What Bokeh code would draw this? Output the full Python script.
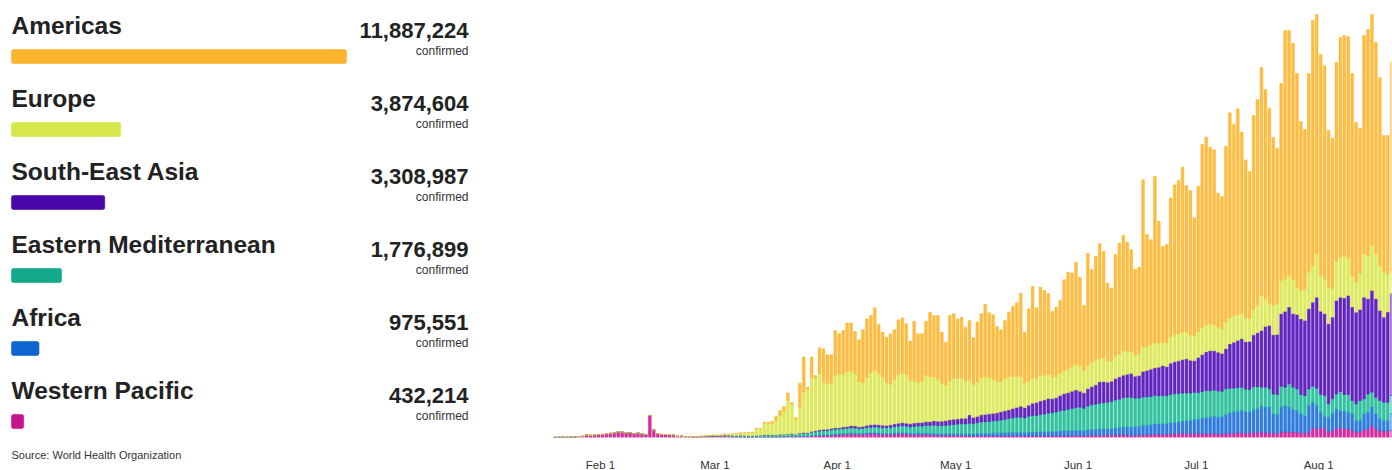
from datetime import date
from bokeh.plotting import figure
from bokeh.layouts import row
from bokeh.models import ColumnDataSource, FixedTicker, Range1d
from bokeh.embed import file_html
from bokeh.resources import INLINE
from bokeh.core.properties import value

# ---------------- summary panel data ----------------
regions = ["Americas", "Europe", "South-East Asia", "Eastern Mediterranean", "Africa", "Western Pacific"]
confirmed = [11887224, 3874604, 3308987, 1776899, 975551, 432214]
legend_colors = ["#FBB52F", "#D5E74B", "#4A06A8", "#13A98A", "#0F66D0", "#C7158E"]
source_note = "Source: World Health Organization"

# ---------------- daily new cases (thousands), 2020-01-20 .. 2020-08-19 ----------------
first_day = date(2020, 1, 20)
tick_dates = [date(2020, 2, 1), date(2020, 3, 1), date(2020, 4, 1), date(2020, 5, 1),
              date(2020, 6, 1), date(2020, 7, 1), date(2020, 8, 1)]
tick_labels = ["Feb 1", "Mar 1", "Apr 1", "May 1", "Jun 1", "Jul 1", "Aug 1"]

western_pacific = [
    # Jan 20-31
    0.08, 0.15, 0.15, 0.13, 0.26, 0.45, 0.69, 0.77, 1.77, 1.46, 1.74, 1.98,
    # Feb
    2.10, 2.59, 2.83, 3.24, 3.89, 3.70, 3.15, 3.40, 2.66, 3.00, 2.48, 2.03, 15.15, 5.09, 2.64,
    2.10, 2.05, 1.90, 1.75, 0.82, 0.90, 0.65, 0.65, 0.42, 0.52, 0.62, 0.75, 0.85, 0.95,
    # Mar
    0.9, 0.8, 1.0, 0.7, 0.6, 0.6, 0.5, 0.4, 0.3, 0.3, 0.3, 0.3, 0.3, 0.3, 0.3, 0.3,
    0.4, 0.4, 0.5, 0.6, 0.6, 0.7, 0.8, 0.8, 1.0, 1.1, 1.3, 1.4, 1.3, 1.5, 1.7,
    # Apr
    1.8, 2.0, 2.1, 2.3, 2.2, 2.0, 2.1, 2.3, 2.5, 2.4, 2.3, 2.1, 2.2, 2.0, 2.3,
    2.4, 2.6, 2.2, 2.0, 1.9, 2.0, 1.8, 1.9, 1.7, 1.6, 1.5, 1.4, 1.3, 1.4, 1.3,
    # May
    1.4, 1.3, 1.2, 1.1, 1.1, 1.2, 1.3, 1.2, 1.0, 1.1, 1.2, 1.1, 1.0, 1.1, 1.2, 1.1,
    1.0, 1.0, 1.1, 1.0, 1.1, 1.2, 1.0, 1.0, 1.1, 1.0, 1.1, 1.2, 1.1, 1.3, 1.2,
    # Jun
    1.3, 1.2, 1.4, 1.5, 1.6, 1.6, 1.5, 1.7, 1.6, 1.8, 1.7, 1.9, 1.8, 1.4, 1.5,
    1.6, 1.9, 1.7, 2.0, 2.2, 2.4, 2.1, 2.2, 2.5, 2.6, 2.7, 2.9, 2.8, 2.6, 3.0,
    # Jul
    2.5, 2.4, 2.6, 2.5, 2.6, 2.4, 2.5, 2.7, 2.8, 3.0, 3.1, 3.2, 3.0, 3.2, 3.4, 3.5,
    3.7, 3.2, 3.2, 3.0, 2.5, 3.7, 3.7, 3.9, 3.7, 3.4, 3.2, 3.2, 3.4, 6.4, 6.4,
    # Aug 1-19
    6.0, 6.7, 3.7, 4.4, 6.4, 6.4, 6.0, 6.0, 4.8, 3.7, 3.7, 5.7, 5.7, 8.3, 6.0, 4.4, 4.4, 4.4, 4.8,
]

africa = [
    # Jan 20-31
    0, 0, 0, 0, 0, 0, 0, 0, 0, 0, 0, 0,
    # Feb
    0, 0, 0, 0, 0, 0, 0, 0, 0, 0, 0, 0, 0, 0, 0,
    0, 0, 0, 0, 0, 0, 0, 0, 0, 0, 0, 0, 0, 0,
    # Mar
    0, 0, 0, 0, 0, 0.01, 0.01, 0.01, 0.01, 0.01, 0.02, 0.03, 0.03, 0.05, 0.05, 0.1,
    0.1, 0.1, 0.15, 0.2, 0.1, 0.3, 0.3, 0.2, 0.4, 0.4, 0.5, 0.5, 0.5, 0.6, 0.6,
    # Apr
    0.6, 0.7, 0.7, 0.8, 0.7, 0.6, 0.8, 0.9, 0.8, 0.9, 0.8, 0.8, 0.7, 0.8, 0.9,
    1.0, 0.9, 1.0, 0.9, 1.0, 1.1, 1.1, 1.2, 1.2, 1.3, 1.2, 1.1, 1.2, 1.3, 1.4,
    # May
    1.4, 1.5, 1.3, 1.4, 1.3, 1.5, 1.6, 1.7, 1.8, 1.9, 1.8, 2.0, 2.2, 2.3, 2.4, 2.5,
    2.4, 2.3, 2.6, 2.8, 2.7, 2.9, 3.0, 3.1, 3.0, 3.1, 3.3, 3.2, 3.4, 3.5, 3.6,
    # Jun
    3.6, 3.4, 3.8, 4.0, 4.1, 4.2, 4.4, 4.3, 4.6, 5.0, 5.2, 5.4, 5.5, 5.7, 5.8,
    6.0, 6.6, 6.8, 7.0, 7.2, 7.0, 7.3, 7.5, 7.6, 7.8, 8.0, 8.5, 8.8, 9.2, 9.5,
    # Jul
    10.0, 10.8, 11.2, 11.5, 12.0, 11.6, 11.8, 13.0, 14.0, 14.5, 15.0, 15.5, 14.8, 14.5, 16.0, 16.5,
    17.9, 17.7, 17.7, 13.3, 13.3, 17.2, 17.9, 17.0, 15.6, 15.2, 13.1, 11.9, 18.6, 17.9, 15.6,
    # Aug 1-19
    11.4, 8.0, 10.3, 12.3, 13.3, 12.2, 12.1, 11.4, 11.5, 8.0, 8.0, 10.6, 11.7, 12.6, 10.3, 8.4, 7.3, 7.3, 11.5,
]

eastern_mediterranean = [
    # Jan 20-31
    0, 0, 0, 0, 0, 0, 0, 0, 0, 0, 0, 0,
    # Feb
    0, 0, 0, 0, 0, 0, 0, 0, 0, 0, 0, 0, 0, 0, 0, 0, 0, 0, 0,
    0.01, 0.02, 0.03, 0.03, 0.05, 0.05, 0.1, 0.1, 0.15, 0.2,
    # Mar
    0.2, 0.4, 0.5, 0.6, 0.6, 0.6, 1.1, 0.8, 0.7, 0.9, 1.0, 1.1, 1.3, 1.4, 1.3, 1.1,
    1.4, 1.5, 1.4, 1.5, 1.2, 1.7, 1.8, 1.7, 2.2, 2.4, 2.6, 2.8, 3.0, 3.2, 3.3,
    # Apr
    3.4, 3.3, 3.5, 3.6, 3.7, 3.5, 3.4, 3.6, 3.8, 3.9, 4.0, 3.8, 3.9, 4.0, 4.2,
    4.4, 4.5, 4.6, 4.4, 4.7, 4.9, 5.0, 5.2, 5.4, 5.6, 5.5, 5.7, 5.8, 6.0, 6.2,
    # May
    6.4, 6.6, 6.8, 7.3, 7.0, 7.5, 7.8, 8.0, 8.2, 8.5, 8.6, 9.0, 9.3, 9.6, 10.0, 10.3,
    10.6, 10.2, 10.9, 11.2, 11.4, 11.8, 12.2, 12.8, 13.0, 13.5, 14.0, 14.3, 14.8, 15.2, 15.8,
    # Jun
    16.0, 15.5, 16.5, 17.0, 17.3, 17.7, 18.0, 18.2, 18.5, 19.0, 19.5, 20.0, 20.3, 20.6, 19.8,
    19.5, 19.4, 19.6, 19.2, 19.5, 19.4, 19.5, 19.0, 19.5, 19.8, 19.5, 19.2, 19.0, 18.8, 18.5,
    # Jul
    18.5, 18.3, 18.6, 18.2, 18.0, 18.1, 17.5, 17.8, 17.0, 16.5, 16.2, 15.8, 15.5, 15.3, 15.6, 15.0,
    13.0, 13.7, 12.6, 13.7, 13.8, 14.4, 13.0, 16.0, 15.3, 14.9, 13.3, 13.8, 11.5, 11.0, 11.9,
    # Aug 1-19
    12.2, 14.2, 9.2, 9.9, 10.3, 13.0, 11.5, 12.2, 9.2, 11.5, 13.8, 10.3, 12.6, 10.3, 11.4, 12.7, 12.6, 12.6, 12.6,
]

south_east_asia = [
    # Jan 20-31
    0, 0, 0, 0, 0, 0, 0, 0, 0, 0, 0, 0,
    # Feb
    0, 0, 0, 0, 0, 0, 0, 0, 0, 0, 0, 0, 0, 0, 0,
    0, 0, 0, 0, 0, 0, 0, 0, 0, 0, 0, 0, 0, 0,
    # Mar
    0, 0, 0, 0.01, 0.02, 0.01, 0.01, 0.03, 0.01, 0.02, 0.02, 0.03, 0.04, 0.05, 0.05, 0.1,
    0.1, 0.1, 0.15, 0.2, 0.2, 0.3, 0.4, 0.4, 0.5, 0.6, 0.7, 0.8, 0.8, 0.9, 1.0,
    # Apr
    0.8, 1.2, 1.1, 1.4, 1.3, 1.1, 1.3, 1.5, 1.6, 1.7, 1.6, 1.7, 1.5, 1.8, 1.9,
    2.0, 2.2, 2.0, 2.1, 2.3, 2.2, 2.4, 2.6, 2.5, 2.8, 2.9, 3.0, 3.2, 3.4, 3.6,
    # May
    3.5, 3.8, 4.0, 5.7, 4.4, 4.2, 4.8, 5.0, 5.2, 5.0, 5.3, 5.5, 5.8, 6.0, 6.4, 6.8,
    7.5, 7.0, 7.6, 8.5, 8.9, 9.2, 9.6, 10.0, 9.5, 9.8, 10.5, 11.4, 11.5, 11.8, 12.0,
    # Jun
    11.0, 10.5, 11.8, 12.5, 13.2, 14.8, 14.5, 13.8, 14.0, 14.8, 15.2, 15.6, 16.0, 16.3, 15.0,
    15.5, 17.5, 18.0, 18.8, 19.0, 19.6, 20.5, 20.0, 21.5, 22.0, 22.5, 23.0, 23.5, 22.5, 21.8,
    # Jul
    24.0, 25.5, 26.5, 27.5, 27.0, 26.5, 26.0, 27.5, 30.5, 31.5, 32.5, 33.5, 32.5, 33.0, 35.5, 37.0,
    39.0, 41.8, 43.6, 40.6, 41.3, 49.8, 52.1, 52.8, 50.5, 51.1, 52.0, 51.6, 55.0, 57.8, 62.6,
    # Aug 1-19
    57.3, 56.2, 55.0, 56.2, 64.3, 64.9, 66.3, 68.1, 64.2, 63.0, 62.6, 69.9, 65.4, 69.9, 67.7, 61.9, 58.5, 62.0, 70.0,
]

europe = [
    # Jan 20-31
    0, 0, 0, 0, 0, 0, 0, 0, 0, 0, 0, 0,
    # Feb
    0, 0, 0, 0, 0, 0, 0, 0, 0, 0, 0, 0, 0, 0, 0, 0, 0, 0, 0, 0,
    0.01, 0.05, 0.1, 0.1, 0.1, 0.15, 0.25, 0.3, 0.45,
    # Mar
    0.5, 0.6, 0.8, 0.8, 1.2, 1.6, 1.5, 1.8, 2.4, 2.2, 4.7, 4.5, 8.1, 7.9, 8.0, 10.2,
    13.2, 16.2, 23.3, 20.1, 10.2, 17.8, 27.9, 30.0, 37.4, 36.1, 38.7, 32.5, 31.3, 30.7, 36.0,
    # Apr
    37.0, 36.5, 38.0, 37.5, 36.0, 31.5, 30.0, 33.0, 36.0, 37.0, 35.5, 33.0, 29.5, 28.0, 30.5,
    33.5, 34.0, 33.5, 30.0, 29.0, 27.5, 28.5, 32.0, 31.0, 30.5, 29.0, 26.0, 24.5, 27.0, 28.0,
    # May
    28.0, 27.5, 25.5, 24.1, 22.5, 24.0, 25.5, 26.0, 25.0, 23.5, 21.5, 21.0, 22.5, 23.0, 22.0, 21.5,
    20.5, 17.0, 16.5, 17.5, 16.0, 17.5, 17.0, 16.5, 15.0, 14.5, 15.5, 16.0, 16.5, 17.0, 17.5,
    # Jun
    17.5, 15.5, 16.5, 17.0, 17.0, 16.1, 16.5, 14.5, 14.0, 15.5, 16.0, 16.5, 15.8, 15.2, 14.5,
    15.0, 17.0, 16.5, 16.8, 17.0, 16.7, 16.0, 16.5, 18.3, 18.5, 18.8, 19.0, 18.5, 17.5, 17.0,
    # Jul
    18.0, 18.5, 18.8, 18.5, 18.0, 17.5, 17.0, 18.5, 18.0, 18.5, 18.0, 17.5, 16.5, 16.0, 17.5, 19.0,
    24.1, 19.0, 14.9, 20.2, 21.1, 22.9, 22.5, 21.8, 23.4, 18.8, 19.5, 21.8, 25.2, 25.2, 29.9,
    # Aug 1-19
    24.6, 24.1, 25.2, 19.5, 27.0, 27.6, 28.9, 25.2, 21.8, 20.7, 25.0, 29.9, 29.8, 31.5, 31.0, 30.9, 30.9, 26.3, 16.0,
]

americas = [
    # Jan 20-31
    0, 0, 0, 0, 0, 0, 0, 0, 0, 0, 0, 0,
    # Feb
    0, 0, 0, 0, 0, 0, 0, 0, 0, 0, 0, 0, 0, 0, 0, 0, 0, 0, 0, 0, 0, 0, 0, 0, 0,
    0.01, 0.01, 0.02, 0.02,
    # Mar
    0.02, 0.02, 0.03, 0.05, 0.1, 0.1, 0.1, 0.15, 0.2, 0.3, 0.4, 0.4, 0.7, 0.8, 1.5, 2.6,
    3.4, 3.0, 5.2, 1.5, 1.5, 16.6, 24.1, 1.5, 13.8, 2.0, 17.9, 23.0, 20.0, 20.0, 31.0,
    # Apr
    27.7, 29.9, 33.3, 33.1, 29.0, 28.5, 36.5, 40.3, 39.2, 43.3, 33.5, 31.1, 31.2, 34.7, 34.3,
    37.7, 38.1, 34.9, 26.9, 41.1, 33.6, 32.5, 37.1, 44.4, 42.1, 43.8, 35.3, 29.6, 44.8, 44.6,
    # May
    40.9, 42.1, 37.1, 40.9, 32.3, 41.0, 44.1, 49.6, 44.6, 44.4, 38.0, 35.5, 39.7, 44.2, 48.1, 50.5,
    57.3, 35.0, 49.8, 62.9, 49.1, 60.8, 58.3, 55.9, 45.1, 47.8, 49.9, 62.4, 66.4, 64.3, 70.5,
    # Jun
    60.9, 44.7, 76.8, 63.6, 71.3, 78.9, 73.1, 53.7, 50.0, 69.8, 76.1, 79.6, 75.0, 69.9, 59.2,
    59.6, 114.9, 77.1, 72.2, 114.7, 83.7, 66.0, 67.6, 95.3, 103.1, 105.3, 113.4, 100.8, 99.3, 81.3,
    # Jul
    99.7, 126.1, 128.9, 121.5, 120.3, 92.0, 91.0, 120.9, 141.1, 131.3, 141.3, 124.6, 108.7, 101.0, 133.5, 141.5,
    156.9, 144.0, 134.4, 115.6, 106.8, 135.6, 170.8, 168.5, 162.6, 147.0, 116.3, 109.6, 136.7, 168.6, 164.6,
    # Aug 1-19
    152.0, 146.7, 107.8, 103.4, 136.7, 151.1, 151.8, 153.0, 138.9, 109.8, 99.5, 150.2, 155.5, 158.4, 145.4, 129.4, 94.1, 95.2, 143.1,
]

# ---------------- styling ----------------
FONT = "Liberation Sans"
INK = "#222222"
chart_colors = ["#CC1A94", "#1A6FD8", "#1DBB96", "#5210B8", "#D9E84E", "#FDB62F"]  # bottom -> top
stack_keys = ["wpr", "afr", "emr", "sear", "eur", "amr"]

PANEL_W, PANEL_H = 480, 470
CHART_W, FRAME_H = 912, 437

# ---------------- left summary panel (pixel coordinates) ----------------
left = figure(frame_width=PANEL_W, frame_height=PANEL_H, title=None,
              x_range=Range1d(0, PANEL_W), y_range=Range1d(PANEL_H, 0),
              output_backend="svg", toolbar_location=None, x_axis_location=None, y_axis_location=None,
              min_border=0, min_border_left=0, min_border_right=0, min_border_top=0, min_border_bottom=0,
              outline_line_color=None)
left.xgrid.visible = False
left.ygrid.visible = False

pitch = 73
max_conf = max(confirmed)
rows_i = list(range(len(regions)))
bar_src = ColumnDataSource(dict(
    left=[11] * len(regions),
    right=[11 + v / max_conf * 335 for v in confirmed],
    top=[49 + pitch * i for i in rows_i],
    bottom=[63 + pitch * i for i in rows_i],
    color=legend_colors,
))
left.quad(left="left", right="right", top="top", bottom="bottom", fill_color="color",
          line_color="color", line_alpha=0.6, source=bar_src, border_radius=2)

left.text(x=[11] * len(regions), y=[24.5 + pitch * i for i in rows_i], text=regions,
          text_font=value(FONT), text_font_size="24.5px", text_font_style="bold",
          text_color=INK, text_baseline="alphabetic", text_align="left")
left.text(x=[468] * len(regions), y=[29.5 + pitch * i for i in rows_i], text=[f"{v:,}" for v in confirmed],
          text_font=value(FONT), text_font_size="22px", text_font_style="bold",
          text_color=INK, text_baseline="alphabetic", text_align="right")
left.text(x=[468] * len(regions), y=[50.5 + pitch * i for i in rows_i], text=["confirmed"] * len(regions),
          text_font=value(FONT), text_font_size="12px", text_color="#333333",
          text_baseline="alphabetic", text_align="right")
left.text(x=[11], y=[454.5], text=[source_note], text_font=value(FONT), text_font_size="11px",
          text_color="#333333", text_baseline="alphabetic", text_align="left")

# ---------------- right stacked daily chart ----------------
ref = date(2020, 2, 1)
n_days = len(americas)
offset0 = (first_day - ref).days
xs = [offset0 + i + 0.5 for i in range(n_days)]
alphas = [0.9] * (n_days - 1) + [0.45]
src = ColumnDataSource(dict(
    x=xs,
    wpr=[v * 1000 for v in western_pacific],
    afr=[v * 1000 for v in africa],
    emr=[v * 1000 for v in eastern_mediterranean],
    sear=[v * 1000 for v in south_east_asia],
    eur=[v * 1000 for v in europe],
    amr=[v * 1000 for v in americas],
    alpha=alphas,
))

chart = figure(frame_width=CHART_W, frame_height=FRAME_H, title=None,
               x_range=Range1d(-30.41, 200.71), y_range=Range1d(0, 300650),
               output_backend="svg", toolbar_location=None, y_axis_location=None,
               min_border=0, min_border_left=0, min_border_right=0, min_border_top=0, min_border_bottom=0,
               outline_line_color=None)
chart.xgrid.visible = False
chart.ygrid.visible = False
chart.vbar_stack(stack_keys, x="x", width=0.7, source=src,
                 fill_color=chart_colors, line_color=chart_colors,
                 fill_alpha="alpha", line_alpha=1.0, line_width=0.5)

tick_pos = [(d - ref).days for d in tick_dates]
ax = chart.xaxis[0]
ax.ticker = FixedTicker(ticks=tick_pos)
ax.major_label_overrides = {t: lab for t, lab in zip(tick_pos, tick_labels)}
ax.axis_line_color = None
ax.major_tick_line_color = None
ax.minor_tick_line_color = None
ax.major_tick_out = 0
ax.major_tick_in = 0
ax.major_label_standoff = 21
ax.major_label_text_font = FONT
ax.major_label_text_font_size = "11.5px"
ax.major_label_text_color = "#333333"

layout = row(left, chart)
open("out.html", "w").write(file_html(layout, INLINE))
